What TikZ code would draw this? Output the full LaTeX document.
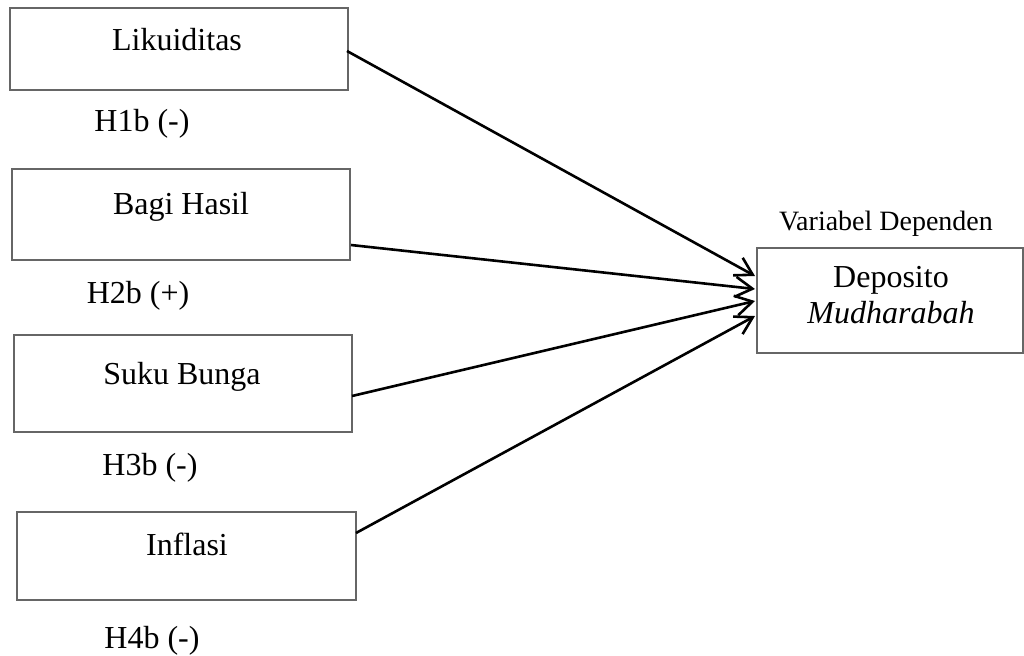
\documentclass[tikz,border=0pt]{standalone}
\usepackage{fontspec}
\setmainfont{Liberation Serif}
\usetikzlibrary{arrows.meta}
\begin{document}
\begin{tikzpicture}[x=0.5pt,y=-0.5pt,
  varbox/.style={draw=black!60, line width=0.7pt, rectangle, inner sep=0pt},
  txt/.style={anchor=base, inner sep=0pt, font=\fontsize{16}{19}\selectfont},
  small/.style={anchor=base, inner sep=0pt, font=\fontsize{14}{17}\selectfont},
  arr/.style={draw=black, line width=1.3pt, -{Straight Barb[length=8.5pt,width=10pt]}}]
\useasboundingbox (0,0) rectangle (1024,655);
% boxes
\node[varbox, minimum width=169pt, minimum height=41pt] (b1) at (179,49) {};
\node[varbox, minimum width=169pt, minimum height=45.5pt] (b2) at (181,214.5) {};
\node[varbox, minimum width=169pt, minimum height=48.5pt] (b3) at (183,383.5) {};
\node[varbox, minimum width=169.5pt, minimum height=44pt] (b4) at (186.5,556) {};
\node[varbox, minimum width=133pt, minimum height=52.5pt] (dep) at (890,300.5) {};
% texts
\node[txt] (t1) at (177,50) {Likuiditas};
\node[txt] (h1) at (142,131) {H1b (-)};
\node[txt] (t2) at (181,214) {Bagi Hasil};
\node[txt] (h2) at (138,303) {H2b (+)};
\node[txt] (t3) at (182,384) {Suku Bunga};
\node[txt] (h3) at (150,475) {H3b (-)};
\node[txt] (t4) at (187,555) {Inflasi};
\node[txt] (h4) at (152,648) {H4b (-)};
\node[small] (vd) at (886,230) {Variabel Dependen};
\node[txt] (d1) at (891,287) {Deposito};
\node[txt] (d2) at (891,323) {\itshape Mudharabah};
% connector end points
\coordinate (s1) at (347,51);
\coordinate (s2) at (351,245);
\coordinate (s3) at (352,396);
\coordinate (s4) at (356,533);
\coordinate (e1) at (755,276);
\coordinate (e2) at (755,289);
\coordinate (e3) at (755,301);
\coordinate (e4) at (755,316);
\draw[arr] (s1) -- (e1);
\draw[arr] (s2) -- (e2);
\draw[arr] (s3) -- (e3);
\draw[arr] (s4) -- (e4);
\end{tikzpicture}
\end{document}
